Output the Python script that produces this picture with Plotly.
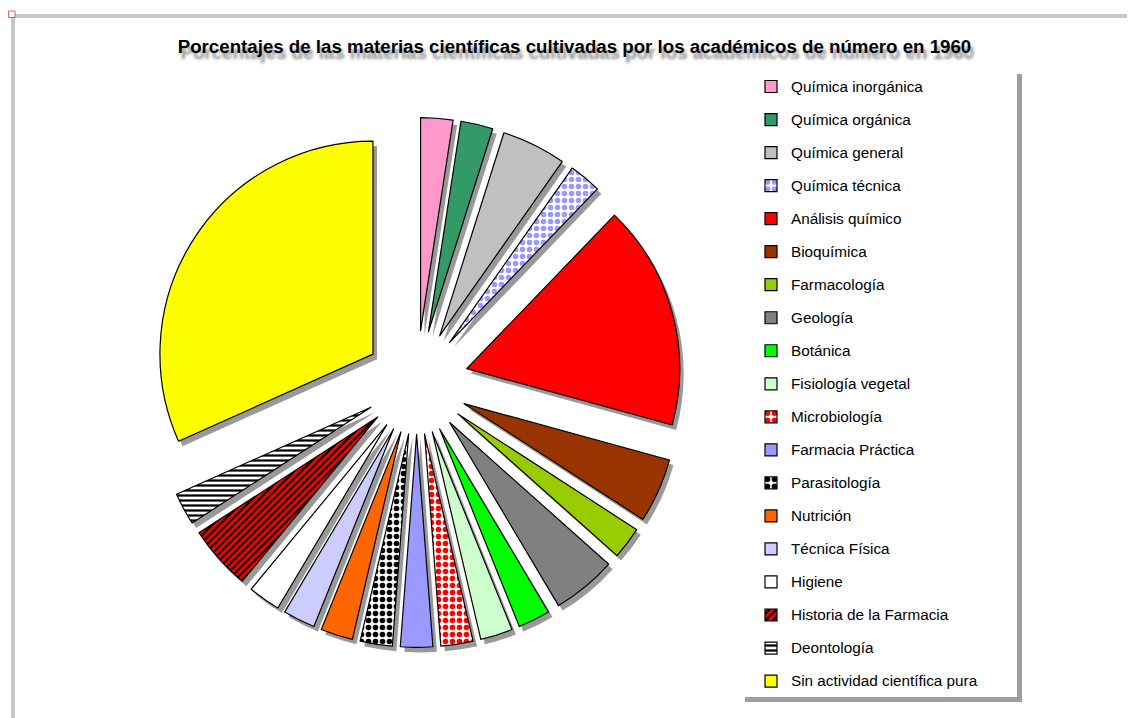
import plotly.graph_objects as go

W, H = 1135, 718
OFF = 8  # page body margin of the html page

categories = [
    "Química inorgánica", "Química orgánica", "Química general", "Química técnica",
    "Análisis químico", "Bioquímica", "Farmacología", "Geología", "Botánica",
    "Fisiología vegetal", "Microbiología", "Farmacia Práctica", "Parasitología",
    "Nutrición", "Técnica Física", "Higiene", "Historia de la Farmacia",
    "Deontología", "Sin actividad científica pura",
]
percentages = [2.44, 2.44, 4.88, 2.44, 17.07, 4.88, 2.44, 4.88, 2.44,
               2.44, 2.44, 2.44, 2.44, 2.44, 2.44, 2.44, 4.88, 2.44, 31.71]
colors = ["#FF99CC", "#339966", "#C0C0C0", "#FFFFFF", "#FF0000", "#993300",
          "#99CC00", "#808080", "#00FF00", "#CCFFCC", "#FFFFFF", "#9999FF",
          "#FFFFFF", "#FF6600", "#CCCCFF", "#FFFFFF", "#FF0000", "#FFFFFF", "#FFFF00"]
pattern_shapes = ["", "", "", ".", "", "", "", "", "", "", ".", "", ".",
                  "", "", "", "/", "-", ""]
pattern_fg = ["#000000", "#000000", "#000000", "#9999FF", "#000000", "#000000",
              "#000000", "#000000", "#000000", "#000000", "#FF0000", "#000000",
              "#000000", "#000000", "#000000", "#000000", "#000000", "#000000", "#000000"]
title_text = "Porcentajes de las materias científicas cultivadas por los académicos de número en 1960"

PULL = 0.244


def px_x(v):
    return (v - OFF) / W


def px_y(v):
    return 1 - (v - OFF) / H


dom_x = [px_x(151.6), px_x(681.6)]
dom_y = [px_y(647.4), px_y(117.4)]

legend_labels = [
    '<span style="font-size:15.3px;baseline-shift:4px">%s</span>' % c for c in categories
]

fig = go.Figure()

# drop shadow of the slices
fig.add_trace(go.Pie(
    labels=legend_labels,
    values=percentages,
    sort=False,
    direction="clockwise",
    rotation=0,
    pull=PULL,
    textinfo="none",
    hoverinfo="skip",
    showlegend=False,
    marker=dict(colors=["rgba(0,0,0,0.4)"] * len(categories),
                line=dict(width=0)),
    domain=dict(x=[dom_x[0] + 4 / W, dom_x[1] + 4 / W],
                y=[dom_y[0] - 5 / H, dom_y[1] - 5 / H]),
))

fig.add_trace(go.Pie(
    labels=legend_labels,
    values=percentages,
    sort=False,
    direction="clockwise",
    rotation=0,
    pull=PULL,
    textinfo="none",
    marker=dict(
        colors=colors,
        line=dict(color="#000000", width=1.2),
        pattern=dict(shape=pattern_shapes, fgcolor=pattern_fg, bgcolor=colors,
                     size=[7 if s == "." else 5 for s in pattern_shapes],
                     solidity=[0.5 if s == "." else 0.45 for s in pattern_shapes],
                     fillmode="replace"),
    ),
    domain=dict(x=dom_x, y=dom_y),
))

shapes = [
    # frame lines
    dict(type="rect", xref="paper", yref="paper", x0=px_x(11), x1=1, y0=px_y(14), y1=px_y(18),
         fillcolor="#C8C8C8", line=dict(width=0), layer="above"),
    dict(type="rect", xref="paper", yref="paper", x0=px_x(11), x1=px_x(15), y0=px_y(14), y1=0,
         fillcolor="#C8C8C8", line=dict(width=0), layer="above"),
    dict(type="rect", xref="paper", yref="paper", x0=px_x(8.5), x1=px_x(15), y0=px_y(11), y1=px_y(17.5),
         fillcolor="#FFFFFF", line=dict(color="#E06060", width=1), layer="above"),
    # legend shadow
    dict(type="rect", xref="paper", yref="paper", x0=px_x(1017), x1=px_x(1022), y0=px_y(74), y1=px_y(702),
         fillcolor="rgba(0,0,0,0.38)", line=dict(width=0), layer="above"),
    dict(type="rect", xref="paper", yref="paper", x0=px_x(745), x1=px_x(1017), y0=px_y(697), y1=px_y(702),
         fillcolor="rgba(0,0,0,0.38)", line=dict(width=0), layer="above"),
]

fig.update_layout(
    width=W, height=H,
    autosize=False,
    margin=dict(l=0, r=0, t=0, b=0),
    paper_bgcolor="#FFFFFF",
    plot_bgcolor="#FFFFFF",
    font=dict(family="Arial, Liberation Sans, sans-serif", color="#000000"),
    title=dict(
        text=title_text,
        x=px_x(574.5), xanchor="center",
        y=px_y(46), yanchor="middle",
        font=dict(size=18.7, weight="bold", color="#000000",
                  shadow="3px 6px 3px rgba(0,0,0,0.45)"),
    ),
    legend=dict(
        x=px_x(751), xanchor="left",
        y=px_y(65), yanchor="top",
        bgcolor="rgba(255,255,255,0)",
        borderwidth=0,
        font=dict(size=23.1, color="#000000"),
        traceorder="normal",
    ),
    shapes=shapes,
)

fig.write_html("out.html")
